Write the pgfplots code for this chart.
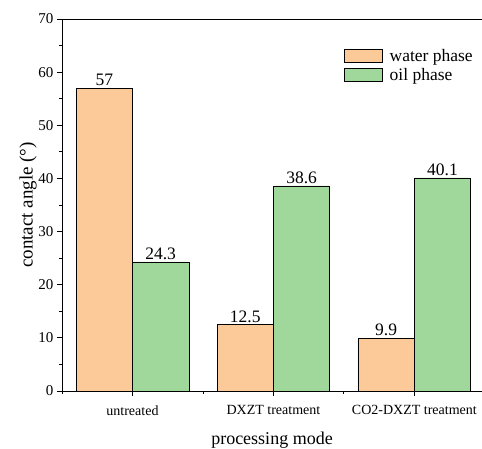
\documentclass[border=0pt]{standalone}
\usepackage{pgfplots}
\pgfplotsset{compat=1.18}
\usepackage{fontspec}
\setmainfont{Liberation Serif}
\definecolor{water}{RGB}{252,201,153}
\definecolor{oil}{RGB}{160,216,155}
\pgfplotsset{boxlegend/.style={legend image code/.code={\draw[##1] (0pt,-6.5pt) rectangle (38pt,6.5pt); \path (43pt,0pt);}}}
\begin{document}
\begin{tikzpicture}
\begin{axis}[
  scale only axis, width=420pt, height=372pt, at={(0,0)}, anchor=south west,
  xmin=-0.5, xmax=2.48, ymin=0, ymax=70,
  ybar=0pt, bar width=0.4,
  xtick={0,1,2},
  xticklabels={untreated, DXZT treatment, CO2-DXZT treatment},
  minor xtick={-0.5,0.5,1.5},
  ytick={0,10,...,70}, minor ytick={5,15,...,65},
  tick align=outside, major tick length=5pt, minor tick length=3pt,
  axis x line*=bottom, axis y line*=left,
  axis line style={line width=0.8pt},
  every tick/.style={black, line width=0.8pt},
  /pgf/number format/assume math mode=true,
  yticklabel style={font=\fontsize{15}{17}\selectfont},
  xticklabel style={font=\fontsize{14}{16}\selectfont, yshift=-6pt},
  xlabel={processing mode},
  ylabel={contact angle (°)},
  xlabel style={font=\fontsize{18}{20}\selectfont, yshift=-10pt},
  ylabel style={font=\fontsize{19}{21}\selectfont, yshift=-5pt},
  nodes near coords,
  every node near coord/.append style={font=\fontsize{17.5}{19}\selectfont, black, inner sep=2pt},
  legend style={at={(rel axis cs:0.664,0.93)}, anchor=north west, draw=none, fill=none,
    font=\fontsize{17.5}{19}\selectfont, row sep=1pt, legend cell align=left},
]
\addplot[fill=water, draw=black, line width=0.6pt, boxlegend]
  coordinates {(0,57) (1,12.5) (2,9.9)};
\addlegendentry{water phase}
\addplot[fill=oil, draw=black, line width=0.6pt, boxlegend]
  coordinates {(0,24.3) (1,38.6) (2,40.1)};
\addlegendentry{oil phase}
\draw[line width=0.8pt] (rel axis cs:0,1) -- (rel axis cs:1,1);
\end{axis}
\pgfresetboundingbox
\useasboundingbox (-62pt,-58pt) rectangle (420pt,391pt);
\end{tikzpicture}
\end{document}
